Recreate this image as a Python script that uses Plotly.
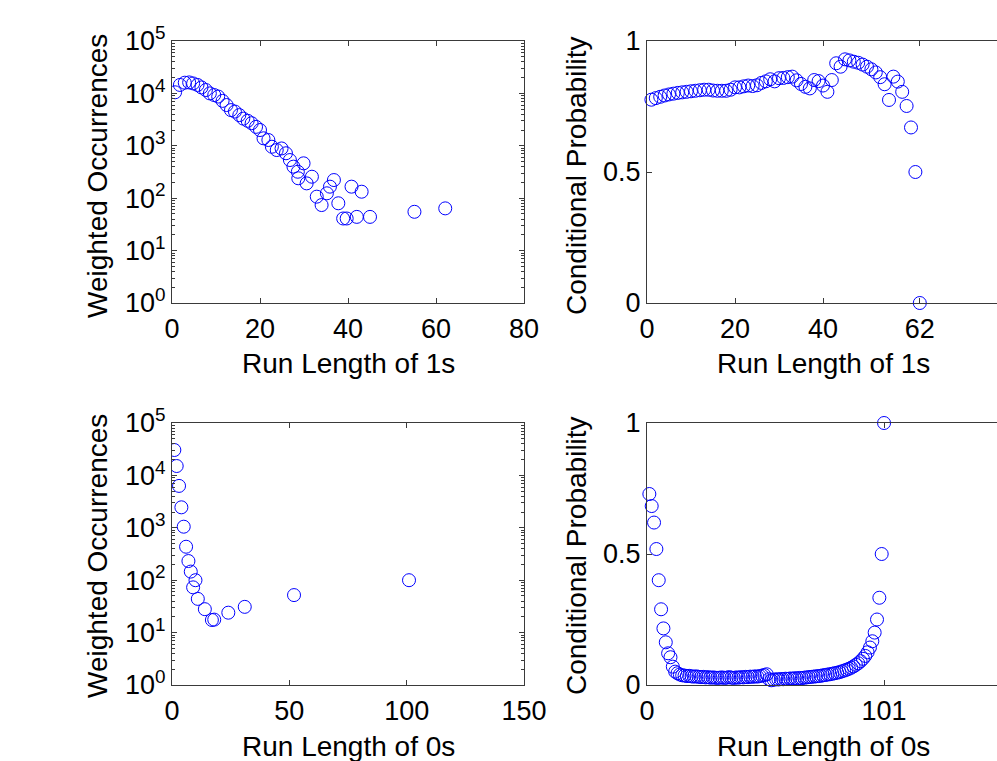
import plotly.graph_objects as go

# ---- run-length statistics of 1s ----
ones_len = [0.7, 1.8, 2.9, 3.9, 4.8, 5.8, 6.7, 7.7, 8.6, 9.6, 10.5, 11.5, 12.4, 13.4, 14.3,
            15.3, 16.2, 17.2, 18.1, 19.1, 20.0,
            20.8, 21.9, 22.7, 23.8, 24.9, 25.9, 26.8, 27.6, 28.6, 29.9, 28.7, 30.6, 31.8,
            32.9, 34.0, 35.2, 35.9, 36.8, 37.8, 38.9, 39.7, 40.8, 42.0, 43.1, 45.0, 55.1, 62.1]
ones_occ = [10500, 14500, 16000, 16200, 15500, 14500, 13000, 11600, 10000, 9300, 8700, 7200,
            6000, 4800, 4500, 3850, 3300, 3000, 2700, 2300, 2000,
            1390, 1290, 960, 830, 890, 720, 535, 400, 320, 463, 240, 192, 257,
            107, 74, 124, 166, 222, 80, 41, 41, 166, 44, 133, 44, 55, 64]

ones_cond_len = list(range(1, 63))
ones_cond_p = [0.776, 0.782, 0.787, 0.792, 0.796, 0.799, 0.802, 0.804, 0.806, 0.808,
               0.810, 0.812, 0.814, 0.814, 0.811, 0.810, 0.810, 0.810, 0.814, 0.823,
               0.823, 0.827, 0.830, 0.828, 0.831, 0.840, 0.846, 0.854, 0.846, 0.858,
               0.859, 0.862, 0.864, 0.850, 0.836, 0.825, 0.819, 0.851, 0.847, 0.830,
               0.806, 0.851, 0.915, 0.902, 0.930, 0.926, 0.921, 0.917, 0.910, 0.902,
               0.892, 0.880, 0.862, 0.835, 0.775, 0.864, 0.845, 0.806, 0.752, 0.670,
               0.500, 0.000]

# ---- run-length statistics of 0s ----
zeros_len = [1, 2, 3, 4, 5, 6, 7, 8, 9, 10, 11, 14, 17, 18, 24, 31, 52, 101]
zeros_occ = [30500, 15100, 6300, 2460, 1050, 435, 232, 146, 73, 100, 44, 28, 17.4, 17.7,
             24, 31, 52, 100]

zeros_cond_len = list(range(1, 102))
zeros_cond_p = [0.729, 0.683, 0.620, 0.519, 0.400, 0.289, 0.216, 0.163, 0.121, 0.106,
                0.070, 0.051, 0.045, 0.040, 0.037, 0.036, 0.034, 0.035, 0.033, 0.032,
                0.033, 0.031, 0.030, 0.031, 0.029, 0.030, 0.028, 0.029, 0.028, 0.027,
                0.028, 0.029, 0.027, 0.028, 0.030, 0.028, 0.027, 0.029, 0.028, 0.030,
                0.029, 0.031, 0.030, 0.032, 0.031, 0.033, 0.032, 0.034, 0.036, 0.038,
                0.041, 0.022, 0.018, 0.020, 0.022, 0.021, 0.023, 0.022, 0.024, 0.023,
                0.025, 0.024, 0.026, 0.025, 0.027, 0.026, 0.028, 0.029, 0.030, 0.031,
                0.032, 0.033, 0.034, 0.035, 0.037, 0.038, 0.040, 0.041, 0.043, 0.045,
                0.047, 0.049, 0.052, 0.055, 0.058, 0.062, 0.066, 0.071, 0.077, 0.083,
                0.091, 0.100, 0.111, 0.125, 0.143, 0.167, 0.200, 0.250, 0.333, 0.500,
                1.000]

# tick labels
ones_ticks = [0, 20, 40, 60, 80]
ones_cond_ticks = [0, 20, 40, 62]
zeros_ticks = [0, 50, 100, 150]
zeros_cond_ticks = [0, 101]
prob_ticks = [0, 0.5, 1]
prob_labels = ["0", "0.5", "1"]
decades = [0, 1, 2, 3, 4, 5]

W, H = 997, 761
FONT = "Liberation Sans, Arial, Helvetica, sans-serif"
AX = "#3a3a3a"
BLUE = "#0000ff"


def px_x(p):
    return p / W


def px_y(p):
    return 1 - p / H


marker = dict(symbol="circle-open", size=13, color=BLUE, line=dict(width=1, color=BLUE))

fig = go.Figure()
fig.add_trace(go.Scatter(x=ones_len, y=ones_occ, mode="markers", marker=marker,
                         xaxis="x", yaxis="y", showlegend=False))
fig.add_trace(go.Scatter(x=ones_cond_len, y=ones_cond_p, mode="markers", marker=marker,
                         xaxis="x2", yaxis="y2", showlegend=False, cliponaxis=False))
fig.add_trace(go.Scatter(x=zeros_len, y=zeros_occ, mode="markers", marker=marker,
                         xaxis="x3", yaxis="y3", showlegend=False))
fig.add_trace(go.Scatter(x=zeros_cond_len, y=zeros_cond_p, mode="markers", marker=marker,
                         xaxis="x4", yaxis="y4", showlegend=False, cliponaxis=False))

left_dom = [px_x(172), px_x(524)]
right_dom = [px_x(647), 1.0]
top_dom = [px_y(303), px_y(41)]
bot_dom = [px_y(685), px_y(423)]

tickfont = dict(family=FONT, size=27, color="#000000")

common_x = dict(showline=True, linecolor=AX, linewidth=1, ticks="inside", ticklen=5,
                tickcolor=AX, showgrid=False, zeroline=False, tickfont=tickfont,
                tickmode="array", ticklabelstandoff=2, automargin=False)
common_y = dict(showline=True, linecolor=AX, linewidth=1, ticks="inside", ticklen=5,
                tickcolor=AX, showgrid=False, zeroline=False, tickfont=tickfont,
                tickmode="array", automargin=False)

log_vals = [10 ** d for d in decades]
log_text = ["10<sup>%d</sup>" % d for d in decades]
minor_vals = [m * 10 ** d for d in decades[:-1] for m in range(2, 10)]
log_axis = dict(common_y, type="log", range=[0, 5], tickvals=log_vals, ticktext=log_text,
                mirror="ticks",
                minor=dict(ticks="inside", ticklen=3, tickcolor=AX, tickvals=minor_vals,
                           showgrid=False))

fig.update_layout(
    width=W, height=H, autosize=False,
    margin=dict(l=0, r=0, t=0, b=0, pad=0),
    paper_bgcolor="white", plot_bgcolor="white",
    xaxis=dict(common_x, domain=left_dom, anchor="y", range=[0, 80], tickvals=ones_ticks,
               mirror="ticks"),
    yaxis=dict(log_axis, domain=top_dom, anchor="x"),
    xaxis2=dict(common_x, domain=right_dom, anchor="y2", range=[0, 350 / 4.4],
                tickvals=ones_cond_ticks, mirror="ticks"),
    yaxis2=dict(common_y, domain=top_dom, anchor="x2", range=[0, 1], tickvals=prob_ticks,
                ticktext=prob_labels),
    xaxis3=dict(common_x, domain=left_dom, anchor="y3", range=[0, 150], tickvals=zeros_ticks,
                mirror="ticks"),
    yaxis3=dict(log_axis, domain=bot_dom, anchor="x3"),
    xaxis4=dict(common_x, domain=right_dom, anchor="y4", range=[0, 350 / 2.347],
                tickvals=zeros_cond_ticks, mirror="ticks"),
    yaxis4=dict(common_y, domain=bot_dom, anchor="x4", range=[0, 1], tickvals=prob_ticks,
                ticktext=prob_labels),
)

labfont = dict(family=FONT, size=28, color="#000000")
titles = [
    ("Run Length of 1s", (172 + 524) / 2, 364, 0),
    ("Run Length of 1s", (647 + 999) / 2, 364, 0),
    ("Run Length of 0s", (172 + 524) / 2, 746, 0),
    ("Run Length of 0s", (647 + 999) / 2, 746, 0),
    ("Weighted Occurrences", 97, 176, -90),
    ("Conditional Probability", 576, 176, -90),
    ("Weighted Occurrences", 97, 556, -90),
    ("Conditional Probability", 576, 556, -90),
]
for text, cx, cy, ang in titles:
    fig.add_annotation(text=text, x=px_x(cx), y=px_y(cy), xref="paper", yref="paper",
                       xanchor="center", yanchor="middle", showarrow=False,
                       textangle=ang, font=labfont)

fig.write_html("out.html")
